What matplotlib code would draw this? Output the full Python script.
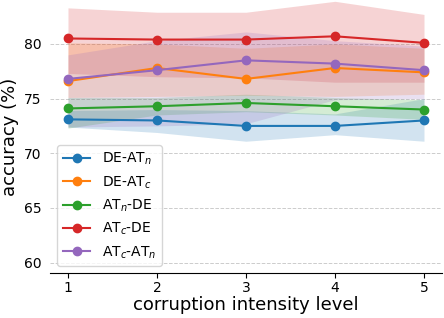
import matplotlib
matplotlib.use("Agg")
import matplotlib.pyplot as plt

levels = [1, 2, 3, 4, 5]

labels = ["DE-AT$_n$", "DE-AT$_c$", "AT$_n$-DE", "AT$_c$-DE", "AT$_c$-AT$_n$"]

de_atn = [73.1, 73.0, 72.5, 72.5, 73.0]
de_atn_lo = [72.4, 71.9, 71.1, 71.7, 71.1]
de_atn_hi = [73.9, 74.0, 73.9, 73.6, 75.0]

de_atc = [76.6, 77.8, 76.8, 77.8, 77.4]
de_atc_lo = [75.1, 75.2, 75.3, 75.2, 75.4]
de_atc_hi = [80.1, 80.0, 79.6, 80.0, 79.6]

atn_de = [74.1, 74.3, 74.6, 74.3, 74.0]
atn_de_lo = [72.3, 73.5, 73.8, 73.5, 73.1]
atn_de_hi = [75.1, 75.1, 75.4, 75.1, 74.9]

atc_de = [80.5, 80.4, 80.4, 80.7, 80.1]
atc_de_lo = [77.3, 77.0, 76.9, 76.5, 76.5]
atc_de_hi = [83.3, 82.9, 82.9, 83.9, 82.7]

atc_atn = [76.8, 77.6, 78.5, 78.2, 77.6]
atc_atn_lo = [72.4, 72.5, 72.7, 74.9, 75.0]
atc_atn_hi = [79.0, 80.3, 81.1, 80.3, 79.8]

means = [de_atn, de_atc, atn_de, atc_de, atc_atn]
lows = [de_atn_lo, de_atc_lo, atn_de_lo, atc_de_lo, atc_atn_lo]
highs = [de_atn_hi, de_atc_hi, atn_de_hi, atc_de_hi, atc_atn_hi]
colors = ["tab:blue", "tab:orange", "tab:green", "tab:red", "tab:purple"]

fig = plt.figure(figsize=(4.44, 3.18), dpi=100)
ax = fig.add_axes([0.113, 0.141, 0.882, 0.859])

for m, lo, hi, c, lab in zip(means, lows, highs, colors, labels):
    ax.fill_between(levels, lo, hi, color=c, alpha=0.2, linewidth=0)
    ax.plot(levels, m, marker="o", color=c, label=lab, markersize=6, linewidth=1.5)

ax.set_xlim(0.8, 5.2)
ax.set_ylim(59.03, 84.02)
ax.set_xticks(levels)
ax.set_yticks([60, 65, 70, 75, 80])
ax.tick_params(axis="both", labelsize=10)
ax.tick_params(axis="x", pad=2)
ax.tick_params(axis="y", length=0, pad=6)
ax.yaxis.grid(True, linestyle="--", color="#cccccc", linewidth=0.7)
ax.set_axisbelow(True)
for s in ["top", "right", "left"]:
    ax.spines[s].set_visible(False)

ax.set_xlabel("corruption intensity level", fontsize=13, labelpad=1)
ax.set_ylabel("accuracy (%)", fontsize=13)
ax.legend(loc="lower left", fontsize=10)

fig.savefig("out.png", dpi=100)
